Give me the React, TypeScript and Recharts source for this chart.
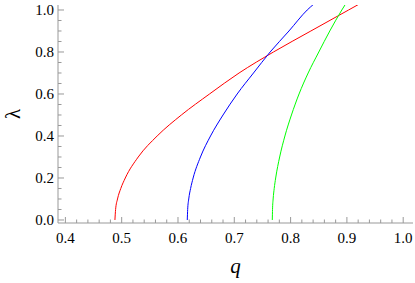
import React from 'react';
import { LineChart, Line, XAxis, YAxis } from 'recharts';

if (typeof document !== 'undefined') document.body.style.margin = '0';

// lambda sample levels shared by all curves, and q per curve
const lambdas = [0, 0.05, 0.1, 0.15, 0.2, 0.3, 0.4, 0.5, 0.6, 0.7, 0.8, 0.9, 1.0, 1.03];
const redQ = [0.488, 0.4892, 0.4926, 0.4984, 0.5064, 0.5294, 0.563, 0.606, 0.656, 0.7085, 0.7696, 0.836, 0.903, 0.923];
const blueQ = [0.6165, 0.6172, 0.6191, 0.6224, 0.6269, 0.6399, 0.6578, 0.68, 0.7051, 0.7341, 0.7637, 0.7971, 0.8295, 0.842];
const greenQ = [0.7675, 0.7679, 0.769, 0.7709, 0.7735, 0.7806, 0.7899, 0.8015, 0.815, 0.8312, 0.8501, 0.8696, 0.891, 0.898];

const xTicks = [0.4, 0.42, 0.44, 0.46, 0.48, 0.5, 0.52, 0.54, 0.56, 0.58, 0.6, 0.62, 0.64, 0.66, 0.68, 0.7, 0.72, 0.74, 0.76, 0.78, 0.8, 0.82, 0.84, 0.86, 0.88, 0.9, 0.92, 0.94, 0.96, 0.98, 1.0];
const yTicks = [0, 0.05, 0.1, 0.15, 0.2, 0.25, 0.3, 0.35, 0.4, 0.45, 0.5, 0.55, 0.6, 0.65, 0.7, 0.75, 0.8, 0.85, 0.9, 0.95, 1.0];

const toRows = (qs: number[]) => qs.map((q, i) => ({ q, l: lambdas[i] }));
const red = toRows(redQ);
const blue = toRows(blueQ);
const green = toRows(greenQ);

const FRAME = '#999999';
const FONT = 'Liberation Serif';

const isMajor = (v: number, step: number) => Math.abs(v / step - Math.round(v / step)) < 1e-6;

const XTick = (side: 'bottom' | 'top') => (props: any) => {
  const { x, y, payload } = props;
  const v = payload.value;
  const major = isMajor(v, 0.1);
  const len = major ? 6 : 3.5;
  const dir = side === 'bottom' ? -1 : 1;
  return (
    <g>
      <line x1={x} x2={x} y1={y} y2={y + dir * len} stroke={FRAME} strokeWidth={1} />
      {side === 'bottom' && major && (
        <text x={x} y={y + 20} textAnchor="middle" fontFamily={FONT} fontSize={15} fill="#000">
          {v.toFixed(1)}
        </text>
      )}
    </g>
  );
};

const YTick = (side: 'left' | 'right') => (props: any) => {
  const { x, y, payload } = props;
  const v = payload.value;
  const major = isMajor(v, 0.2);
  const len = major ? 6 : 3.5;
  const dir = side === 'left' ? 1 : -1;
  return (
    <g>
      <line x1={x} x2={x + dir * len} y1={y} y2={y} stroke={FRAME} strokeWidth={1} />
      {side === 'left' && major && (
        <text x={x - 4} y={y + 5} textAnchor="end" fontFamily={FONT} fontSize={15} fill="#000">
          {v.toFixed(1)}
        </text>
      )}
    </g>
  );
};

const QLabel = (props: any) => {
  const vb = props.viewBox;
  return (
    <text x={vb.x + vb.width / 2} y={vb.y + 50} textAnchor="middle" fontFamily={FONT} fontSize={21} fontStyle="italic" fill="#000">
      q
    </text>
  );
};

const LambdaLabel = (props: any) => {
  const vb = props.viewBox;
  const cx = vb.x + 13;
  const cy = vb.y + vb.height / 2;
  return (
    <text x={cx} y={cy} textAnchor="middle" dominantBaseline="central" transform={`rotate(-90 ${cx} ${cy})`} fontFamily={FONT} fontSize={21} fill="#000">
      λ
    </text>
  );
};

const X_DOMAIN = [0.3869, 1.0174];
const Y_DOMAIN = [-0.0143, 1.0238];

export default function App() {
  return (
    <LineChart width={415} height={283} margin={{ top: 5, right: 2, bottom: 0, left: 0 }}>
      <XAxis
        xAxisId="b"
        dataKey="q"
        type="number"
        domain={X_DOMAIN}
        ticks={xTicks}
        allowDataOverflow
        height={60}
        tickSize={0}
        tickMargin={0}
        tickLine={false}
        axisLine={{ stroke: FRAME }}
        tick={XTick('bottom')}
        interval={0}
        label={<QLabel />}
      />
      <XAxis
        xAxisId="t"
        orientation="top"
        dataKey="q"
        type="number"
        domain={X_DOMAIN}
        ticks={xTicks}
        allowDataOverflow
        height={0}
        tickSize={0}
        tickMargin={0}
        tickLine={false}
        axisLine={{ stroke: FRAME }}
        tick={XTick('top')}
        interval={0}
      />
      <YAxis
        yAxisId="l"
        type="number"
        domain={Y_DOMAIN}
        ticks={yTicks}
        allowDataOverflow
        width={58}
        tickSize={0}
        tickMargin={0}
        tickLine={false}
        axisLine={{ stroke: FRAME }}
        tick={YTick('left')}
        interval={0}
        label={<LambdaLabel />}
      />
      <YAxis
        yAxisId="r"
        orientation="right"
        type="number"
        domain={Y_DOMAIN}
        ticks={yTicks}
        allowDataOverflow
        width={0}
        tickSize={0}
        tickMargin={0}
        tickLine={false}
        axisLine={{ stroke: FRAME }}
        tick={YTick('right')}
        interval={0}
      />
      <Line xAxisId="b" yAxisId="l" data={red} dataKey="l" type="monotone" stroke="#ff0000" strokeWidth={1} dot={false} isAnimationActive={false} />
      <Line xAxisId="b" yAxisId="l" data={blue} dataKey="l" type="monotone" stroke="#0000ff" strokeWidth={1} dot={false} isAnimationActive={false} />
      <Line xAxisId="b" yAxisId="l" data={green} dataKey="l" type="monotone" stroke="#00ff00" strokeWidth={1} dot={false} isAnimationActive={false} />
    </LineChart>
  );
}
